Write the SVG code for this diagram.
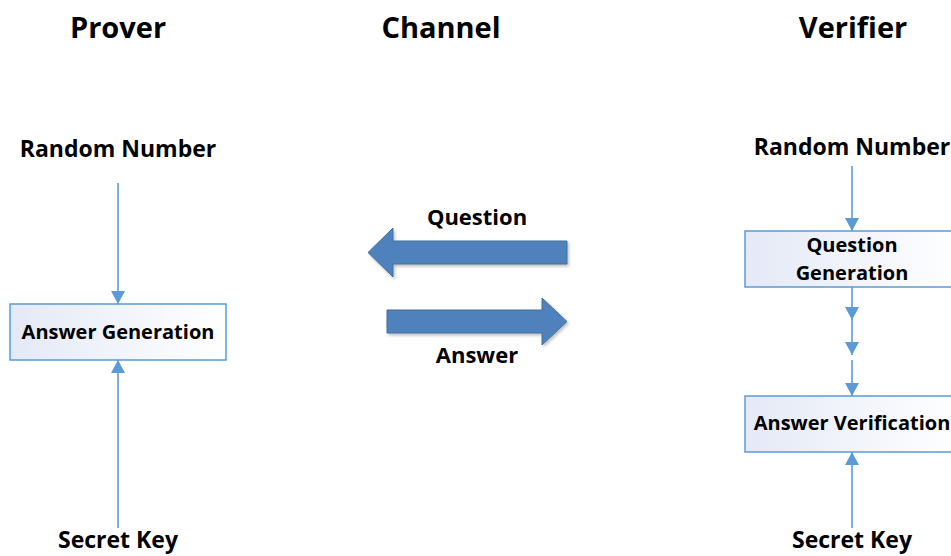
<svg xmlns="http://www.w3.org/2000/svg" width="951" height="556" viewBox="0 0 951 556">
<style>
.t{font-family:"Open Sans","Liberation Sans",sans-serif;font-weight:bold;fill:#000;text-anchor:middle}
.title{font-size:29px}
.lbl{font-size:23px}
.big{font-size:22px}
.box{font-size:20px}
.conn{stroke:#5B9BD5;stroke-width:1.6;fill:none}
.nb{stroke:#5B9BD5;stroke-width:1.5;fill:url(#g)}
.ba{fill:#4F81BD;stroke:#41719C;stroke-width:1}
</style>
<defs>
<linearGradient id="g" x1="0" y1="0" x2="1" y2="0">
<stop offset="0" stop-color="#E4E9F6"/>
<stop offset="1" stop-color="#FFFFFF"/>
</linearGradient>
<marker id="ah" markerUnits="userSpaceOnUse" markerWidth="14" markerHeight="14" viewBox="0 0 14 14" refX="13" refY="7" orient="auto">
<path d="M0,0 L13,7 L0,14 Z" fill="#5B9BD5"/>
</marker>
<filter id="sh" x="-10%" y="-20%" width="130%" height="150%">
<feDropShadow dx="1.5" dy="2" stdDeviation="1.5" flood-color="#000" flood-opacity="0.25"/>
</filter>
</defs>

<g id="titles">
<text class="t title" x="118" y="38">Prover</text>
<text class="t title" x="441" y="38">Channel</text>
<text class="t title" x="853" y="38">Verifier</text>
</g>

<g id="prover-random"><text class="t lbl" x="118" y="157">Random Number</text></g>
<g id="prover-secret"><text class="t lbl" x="118" y="548">Secret Key</text></g>
<g id="answer-generation">
<rect class="nb" x="10" y="304" width="216" height="56"/>
<text class="t box" x="118" y="339">Answer Generation</text>
</g>

<g id="verifier-random"><text class="t lbl" x="852" y="155">Random Number</text></g>
<g id="verifier-secret"><text class="t lbl" x="852" y="548">Secret Key</text></g>
<g id="question-generation">
<rect class="nb" x="745" y="231" width="214" height="56"/>
<text class="t box" x="852" y="252">Question</text>
<text class="t box" x="852" y="280">Generation</text>
</g>
<g id="answer-verification">
<rect class="nb" x="745" y="396" width="214" height="56"/>
<text class="t box" x="852" y="430">Answer Verification</text>
</g>

<g id="question-arrow">
<path class="ba" filter="url(#sh)" d="M567,241 L393,241 L393,228 L368,252.5 L393,277 L393,264 L567,264 Z"/>
<text class="t big" x="477" y="225">Question</text>
</g>
<g id="answer-arrow">
<path class="ba" filter="url(#sh)" d="M387,310 L542,310 L542,298 L567,321.5 L542,345 L542,333 L387,333 Z"/>
<text class="t big" x="477" y="363">Answer</text>
</g>

<g id="connectors">
<line class="conn" x1="118" y1="183" x2="118" y2="304" marker-end="url(#ah)"/>
<line class="conn" x1="118" y1="528" x2="118" y2="360" marker-end="url(#ah)"/>
<line class="conn" x1="852" y1="166" x2="852" y2="231" marker-end="url(#ah)"/>
<line class="conn" x1="852" y1="287" x2="852" y2="320" marker-end="url(#ah)"/>
<line class="conn" x1="852" y1="320" x2="852" y2="355" marker-end="url(#ah)"/>
<line class="conn" x1="852" y1="360" x2="852" y2="396" marker-end="url(#ah)"/>
<line class="conn" x1="852" y1="528" x2="852" y2="452" marker-end="url(#ah)"/>
</g>
</svg>
